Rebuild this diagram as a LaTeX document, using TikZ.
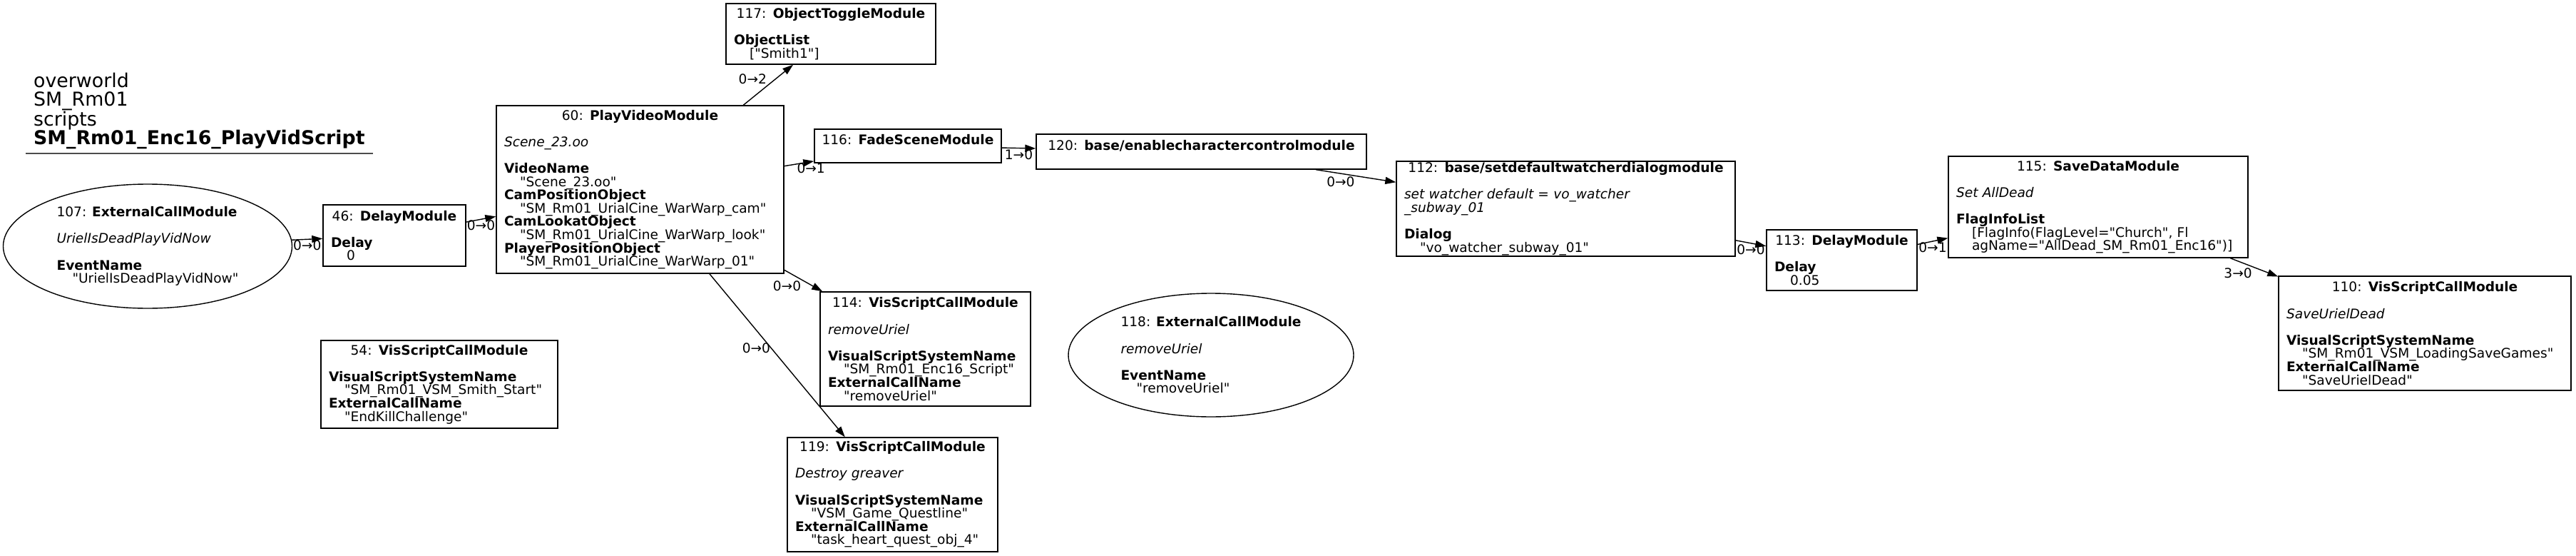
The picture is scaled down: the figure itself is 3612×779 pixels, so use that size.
\documentclass[tikz,border=0pt]{standalone}
\usepackage{fontspec}
\setmainfont{DejaVu Sans}[Ligatures=TeXOff]
\usetikzlibrary{shapes.geometric,arrows.meta}

\newcommand{\modhead}[2]{\makebox[\linewidth][c]{#1: \textbf{#2}}}
\newcommand{\modval}[1]{\hspace*{22pt}#1}

\tikzset{
	modbox/.style={draw, line width=1.4pt, align=left, inner xsep=11pt, inner ysep=0pt, font=\fontsize{18.6}{18.6}\selectfont},
	modoval/.style={draw, ellipse, line width=1.4pt, align=left, inner sep=0pt, font=\fontsize{18.6}{18.6}\selectfont},
	lbl/.style={inner sep=1pt, font=\fontsize{18.6}{18.6}\selectfont},
	flow/.style={line width=1.4pt, -{Triangle[length=15pt,width=10pt]}}
}

\begin{document}
\begin{tikzpicture}[x=1pt,y=-1pt]
	\useasboundingbox (0,0) rectangle (3612,779);

	\node[anchor=south west, align=left, inner xsep=11pt, inner ysep=6pt, font=\fontsize{26.8}{26}\selectfont] (title) at (36,215) {overworld\\SM\_Rm01\\scripts\\\textbf{SM\_Rm01\_Enc16\_PlayVidScript}};
	\draw[line width=1.4pt, black!70] (title.south west) -- (title.south east);

	\node[modoval, minimum width=405pt, minimum height=174pt] (107) at (207,345) {107: \textbf{ExternalCallModule}\\[18.6pt]
		\textit{UrielIsDeadPlayVidNow}\\[18.6pt]
		\textbf{EventName}\\
		\modval{"UrielIsDeadPlayVidNow"}};
	\node[modbox, text width=178pt, minimum height=86pt] (46) at (553,330) {\modhead{46}{DelayModule}\\[18.6pt]
		\textbf{Delay}\\
		\modval{0}};
	\node[modbox, text width=381pt, minimum height=235pt] (60) at (897.5,265.5) {\modhead{60}{PlayVideoModule}\\[18.6pt]
		\textit{Scene\_23.oo}\\[18.6pt]
		\textbf{VideoName}\\
		\modval{"Scene\_23.oo"}\\
		\textbf{CamPositionObject}\\
		\modval{"SM\_Rm01\_UrialCine\_WarWarp\_cam"}\\
		\textbf{CamLookatObject}\\
		\modval{"SM\_Rm01\_UrialCine\_WarWarp\_look"}\\
		\textbf{PlayerPositionObject}\\
		\modval{"SM\_Rm01\_UrialCine\_WarWarp\_01"}};
	\node[modbox, text width=310pt, minimum height=123pt] (54) at (616,538.5) {\modhead{54}{VisScriptCallModule}\\[18.6pt]
		\textbf{VisualScriptSystemName}\\
		\modval{"SM\_Rm01\_VSM\_Smith\_Start"}\\
		\textbf{ExternalCallName}\\
		\modval{"EndKillChallenge"}};
	\node[modbox, text width=272pt, minimum height=85pt] (117) at (1165,47.5) {\modhead{117}{ObjectToggleModule}\\[18.6pt]
		\textbf{ObjectList}\\
		\modval{["Smith1"]}};
	\node[modbox, text width=240pt, minimum height=47pt] (116) at (1273,204.5) {\modhead{116}{FadeSceneModule}\\ \mbox{}};
	\node[modbox, text width=441pt, minimum height=49pt] (120) at (1684.5,212.5) {\modhead{120}{base/enablecharactercontrolmodule}\\ \mbox{}};
	\node[modbox, text width=273pt, minimum height=160pt] (114) at (1297.5,489) {\modhead{114}{VisScriptCallModule}\\[18.6pt]
		\textit{removeUriel}\\[18.6pt]
		\textbf{VisualScriptSystemName}\\
		\modval{"SM\_Rm01\_Enc16\_Script"}\\
		\textbf{ExternalCallName}\\
		\modval{"removeUriel"}};
	\node[modbox, text width=273pt, minimum height=160pt] (119) at (1251.5,693) {\modhead{119}{VisScriptCallModule}\\[18.6pt]
		\textit{Destroy greaver}\\[18.6pt]
		\textbf{VisualScriptSystemName}\\
		\modval{"VSM\_Game\_Questline"}\\
		\textbf{ExternalCallName}\\
		\modval{"task\_heart\_quest\_obj\_4"}};
	\node[modoval, minimum width=400pt, minimum height=173pt] (118) at (1698,497.5) {118: \textbf{ExternalCallModule}\\[18.6pt]
		\textit{removeUriel}\\[18.6pt]
		\textbf{EventName}\\
		\modval{"removeUriel"}};
	\node[modbox, text width=453pt, minimum height=133pt] (112) at (2195.5,292.5) {\modhead{112}{base/setdefaultwatcherdialogmodule}\\[18.6pt]
		\textit{set watcher default = vo\_watcher}\\
		\textit{\_subway\_01}\\[18.6pt]
		\textbf{Dialog}\\
		\modval{"vo\_watcher\_subway\_01"}};
	\node[modbox, text width=189pt, minimum height=85pt] (113) at (2582.5,364.5) {\modhead{113}{DelayModule}\\[18.6pt]
		\textbf{Delay}\\
		\modval{0.05}};
	\node[modbox, text width=398pt, minimum height=142pt] (115) at (2942,290) {\modhead{115}{SaveDataModule}\\[18.6pt]
		\textit{Set AllDead}\\[18.6pt]
		\textbf{FlagInfoList}\\
		\modval{[FlagInfo(FlagLevel="Church", Fl}\\
		\modval{agName="AllDead\_SM\_Rm01\_Enc16")]}};
	\node[modbox, text width=388pt, minimum height=160pt] (110) at (3400,467) {\modhead{110}{VisScriptCallModule}\\[18.6pt]
		\textit{SaveUrielDead}\\[18.6pt]
		\textbf{VisualScriptSystemName}\\
		\modval{"SM\_Rm01\_VSM\_LoadingSaveGames"}\\
		\textbf{ExternalCallName}\\
		\modval{"SaveUrielDead"}};

	\path[draw,flow] (107) edge node[lbl,below] {0→0} (46);
	\path[draw,flow] (46) edge node[lbl,below] {0→0} (60);
	\path[draw,flow] (60) edge node[lbl,left,pos=0.65,xshift=-11pt] {0→2} (117);
	\path[draw,flow] (60) edge node[lbl,below,pos=0.9] {0→1} (116);
	\path[draw,flow] (60) edge node[lbl,below left,pos=0.47] {0→0} (114);
	\path[draw,flow] (60) edge node[lbl,left,pos=0.457] {0→0} (119);
	\path[draw,flow] (116) edge node[lbl,below] {1→0} (120);
	\path[draw,flow] (120) edge node[lbl,below left] {0→0} (112);
	\path[draw,flow] (112) edge node[lbl,below] {0→0} (113);
	\path[draw,flow] (113) edge node[lbl,below] {0→1} (115);
	\path[draw,flow] (115) edge node[lbl,below left,pos=0.48] {3→0} (110);
\end{tikzpicture}
\end{document}
